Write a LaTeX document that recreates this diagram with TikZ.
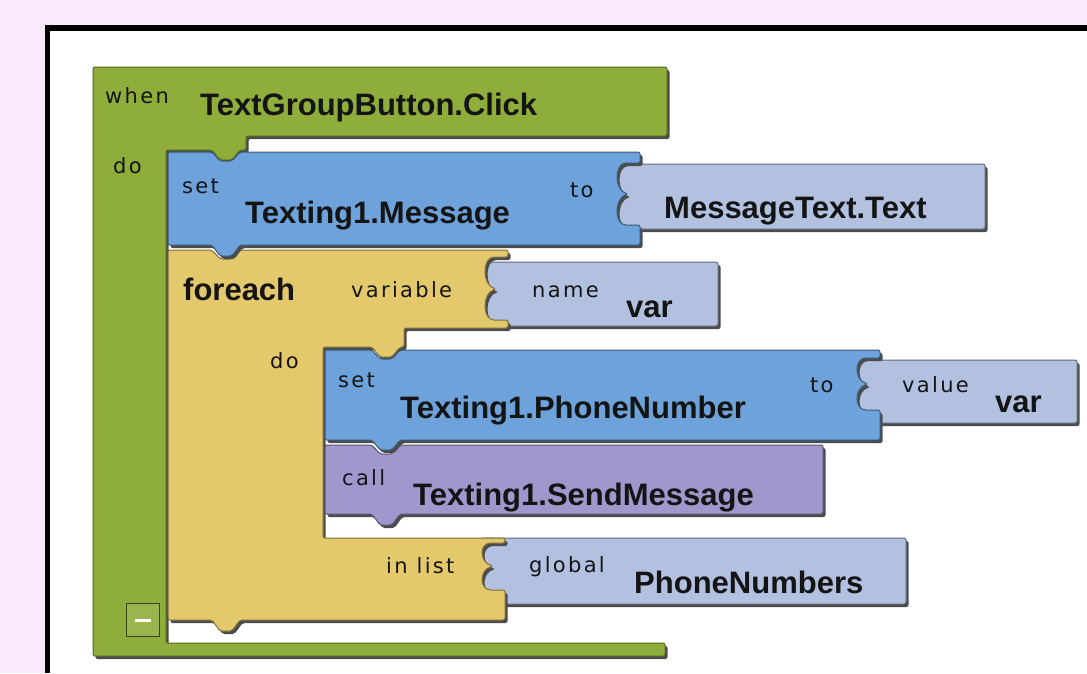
\documentclass[tikz,border=0pt]{standalone}
\usepackage{fontspec}
\setmainfont{Liberation Sans}
\newfontfamily\lblfont[LetterSpace=11]{DejaVu Sans}
\usetikzlibrary{shadows}

\definecolor{bgpink}{RGB}{251,233,251}
\definecolor{blkgreen}{RGB}{143,173,58}
\definecolor{blkblue}{RGB}{110,162,218}
\definecolor{blkslate}{RGB}{178,193,224}
\definecolor{blkyellow}{RGB}{228,200,108}
\definecolor{blkpurple}{RGB}{160,152,205}
\definecolor{txtdark}{RGB}{20,20,20}

\tikzset{
    blk/.style={line width=1pt, line join=round, rounded corners=2pt,
        drop shadow={shadow xshift=2.5pt, shadow yshift=-3pt, opacity=1, fill=black!70}},
    greenblk/.style={blk, fill=blkgreen, draw=blkgreen!60!black},
    blueblk/.style={blk, fill=blkblue, draw=blkblue!55!black},
    yellowblk/.style={blk, fill=blkyellow, draw=blkyellow!55!black},
    purpleblk/.style={blk, fill=blkpurple, draw=blkpurple!55!black},
    plugblk/.style={blk, fill=blkslate, draw=blkslate!55!black},
    bold label/.style={anchor=base west, inner sep=0pt, text=txtdark,
        font=\bfseries\fontsize{31}{31}\selectfont},
    small label/.style={anchor=base west, inner sep=0pt, text=txtdark,
        font=\lblfont\fontsize{21}{21}\selectfont},
    minusbox/.style={draw=blkgreen!40!black, line width=1.5pt, fill=blkgreen!90!white,
        minimum size=33pt, inner sep=0pt}
}

\begin{document}
\begin{tikzpicture}[x=1pt, y=-1pt]
\useasboundingbox (0,0) rectangle (1087,673);
% page and frame
\fill[bgpink] (0,0) rectangle (1087,673);
\fill[black] (45,25) rectangle (1087,673);
\fill[white] (50,31) rectangle (1087,673);

% when block
\draw[greenblk] (93,67) -- (667,67) -- (667,136) -- (246,136) -- (246,150) -- (240,150)
    -- (232,160) -- (220,160) -- (212,150) -- (166,150) -- (166,643) -- (665,643)
    -- (665,656) -- (93,656) -- cycle;

% value plugs
\draw[plugblk] (616,164) rectangle (985,229);
\draw[plugblk] (484,262) rectangle (718,326);
\draw[plugblk] (856,360) rectangle (1077,423);
\draw[plugblk] (481,538) rectangle (906,604);

% foreach block
\draw[yellowblk] (168,250) -- (212,250) -- (220,259) -- (232,259) -- (240,250) -- (508,250)
    -- (508,257) -- (496,257) .. controls (482,257) and (482,285) .. (496,289)
    .. controls (482,293) and (482,320) .. (496,320) -- (508,320)
    -- (508,328) -- (404,328) -- (404,347) -- (400,347) -- (392,357) -- (380,357) -- (372,347)
    -- (323,347) -- (323,538) -- (505,538)
    -- (505,543) -- (493,543) .. controls (479,543) and (479,562) .. (493,566)
    .. controls (479,570) and (479,590) .. (493,590) -- (505,590)
    -- (505,620) -- (240,620) -- (232,631) -- (220,631) -- (212,620) -- (168,620) -- cycle;

% call block
\draw[purpleblk] (325,445) -- (372,445) -- (380,454) -- (392,454) -- (400,445) -- (823,445)
    -- (823,514) -- (400,514) -- (392,525) -- (380,525) -- (372,514) -- (325,514) -- cycle;

% set blocks
\draw[blueblk] (325,350) -- (372,350) -- (380,359) -- (392,359) -- (400,350) -- (880,350)
    -- (880,358) -- (868,358) .. controls (854,358) and (854,380) .. (868,384)
    .. controls (854,388) and (854,410) .. (868,410) -- (880,410)
    -- (880,440) -- (400,440) -- (392,450) -- (380,450) -- (372,440) -- (325,440) -- cycle;
\draw[blueblk] (168,152) -- (212,152) -- (220,161) -- (232,161) -- (240,152) -- (640,152)
    -- (640,163) -- (628,163) .. controls (614,163) and (614,190) .. (628,194)
    .. controls (614,198) and (614,225) .. (628,225) -- (640,225)
    -- (640,245) -- (240,245) -- (232,256) -- (220,256) -- (212,245) -- (168,245) -- cycle;

% collapse button
\node[minusbox] (collapse) at (143,620) {\color{white}\rule{16pt}{3pt}};

% labels
\node[small label] (whenlbl) at (105,103) {when};
\node[bold label] (evname) at (200,115) {TextGroupButton.Click};
\node[small label] (dolbl) at (113,173) {do};
\node[small label] (setlbl) at (182,193) {set};
\node[bold label] (setname) at (245,223) {Texting1.Message};
\node[small label] (tolbl) at (570,197) {to};
\node[bold label] (msgtext) at (664,218) {MessageText.Text};
\node[bold label] (forlbl) at (183,300) {foreach};
\node[small label] (varlbl) at (351,297) {variable};
\node[small label] (namelbl) at (532,297) {name};
\node[bold label] (varname) at (626,317) {var};
\node[small label] (dolbltwo) at (270,368) {do};
\node[small label] (setlbltwo) at (338,387) {set};
\node[bold label] (setnametwo) at (400,418) {Texting1.PhoneNumber};
\node[small label] (tolbltwo) at (810,392) {to};
\node[small label] (valuelbl) at (902,392) {value};
\node[bold label] (varnametwo) at (995,412) {var};
\node[small label] (calllbl) at (342,485) {call};
\node[bold label] (callname) at (413,505) {Texting1.SendMessage};
\node[small label] (inlistlbl) at (386,573) {in list};
\node[small label] (globallbl) at (529,572) {global};
\node[bold label] (listname) at (634,593) {PhoneNumbers};
\end{tikzpicture}
\end{document}
